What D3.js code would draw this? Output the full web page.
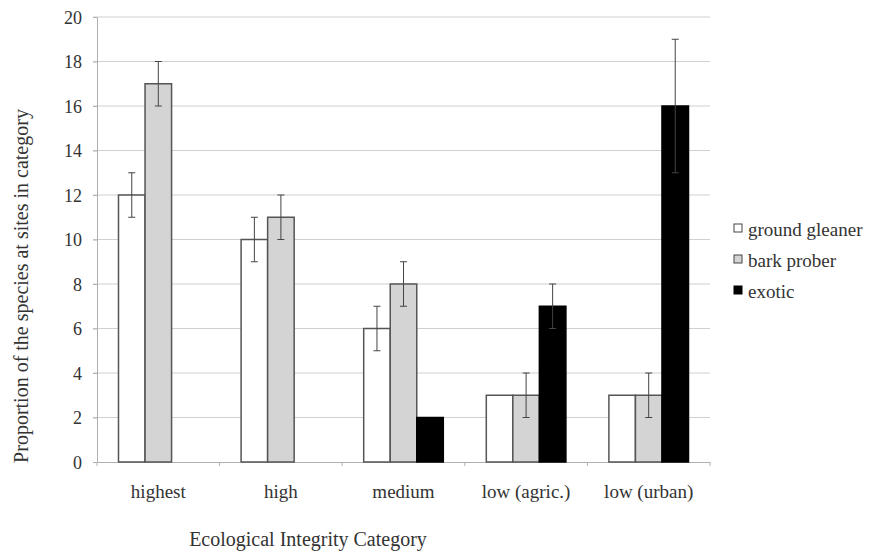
<!DOCTYPE html>
<html>
<head>
<meta charset="utf-8">
<script src="https://cdn.jsdelivr.net/npm/d3@7"></script>
<style>
  html, body { margin: 0; padding: 0; background: #fff; }
  svg { display: block; }
  svg text { font-family: "Liberation Serif", "Times New Roman", serif; fill: #333; }
</style>
</head>
<body>
<svg id="chart" width="871" height="554"></svg>
<script>
const categories = ["highest", "high", "medium", "low (agric.)", "low (urban)"];
const seriesNames = ["ground gleaner", "bark prober", "exotic"];
const groundGleaner = [12, 10, 6, 3, 3];
const barkProber = [17, 11, 8, 3, 3];
const exotic = [0, 0, 2, 7, 16];
const groundGleanerErr = [1, 1, 1, 0, 0];
const barkProberErr = [1, 1, 1, 1, 1];
const exoticErr = [0, 0, 0, 1, 3];
const yTicks = [0, 2, 4, 6, 8, 10, 12, 14, 16, 18, 20];

(function () {
const seriesValues = [groundGleaner, barkProber, exotic];
const seriesErrs = [groundGleanerErr, barkProberErr, exoticErr];
const fills = ["#ffffff", "#d4d4d4", "#000000"];
const strokes = ["#555555", "#555555", "#000000"];

const svg = d3.select("#chart");
const pL = 97, pR = 710, pT = 17, pB = 462;

const x = d3.scaleBand().domain(categories).range([pL, pR]).paddingInner(0).paddingOuter(0);
const inner = d3.scaleBand().domain(d3.range(seriesNames.length)).range([0, x.bandwidth()]).paddingInner(0).paddingOuter(0.81);
const y = d3.scaleLinear().domain([0, 20]).range([pB, pT]);

// gridlines
svg.append("g").selectAll("line").data(yTicks.filter(d => d > 0)).join("line")
  .attr("x1", pL - 4).attr("x2", pR)
  .attr("y1", d => y(d)).attr("y2", d => y(d))
  .attr("stroke", "#d0d0d0").attr("stroke-width", 1.2);

// y axis
const yAxis = svg.append("g").attr("transform", `translate(${pL},0)`)
  .call(d3.axisLeft(y).tickValues(yTicks).tickSize(4).tickSizeOuter(0));
yAxis.attr("font-family", null).attr("font-size", null);
yAxis.select(".domain").attr("stroke", "#b0b0b0");
yAxis.selectAll(".tick line").attr("stroke", "#b0b0b0");
yAxis.selectAll(".tick text").style("font-size", "18px").attr("x", -15).attr("dy", "0.34em");

// x axis
const xAxis = svg.append("g").attr("transform", `translate(0,${pB})`)
  .call(d3.axisBottom(x).tickSize(0).tickSizeOuter(0));
xAxis.attr("font-family", null).attr("font-size", null);
xAxis.select(".domain").attr("stroke", "#b0b0b0");
xAxis.selectAll(".tick text").style("font-size", "19px").attr("dy", 0).attr("y", 36);
// boundary ticks
svg.append("g").selectAll("line").data(d3.range(categories.length + 1)).join("line")
  .attr("x1", i => pL + i * x.step()).attr("x2", i => pL + i * x.step())
  .attr("y1", pB).attr("y2", pB + 4)
  .attr("stroke", "#b0b0b0");

// bars
seriesValues.forEach((vals, si) => {
  const g = svg.append("g");
  g.selectAll("rect").data(vals.map((v, i) => ({v, c: categories[i]})).filter(d => d.v > 0)).join("rect")
    .attr("x", d => x(d.c) + inner(si))
    .attr("width", inner.bandwidth())
    .attr("y", d => y(d.v))
    .attr("height", d => y(0) - y(d.v))
    .attr("fill", fills[si]).attr("stroke", strokes[si]).attr("stroke-width", 1.5);
});

// error bars
seriesValues.forEach((vals, si) => {
  const g = svg.append("g").attr("stroke", "#444").attr("stroke-width", 1);
  vals.forEach((v, i) => {
    if (v <= 0) return;
    const e = seriesErrs[si][i];
    const cx = x(categories[i]) + inner(si) + inner.bandwidth() / 2;
    if (e > 0) {
      g.append("line").attr("x1", cx).attr("x2", cx).attr("y1", y(v + e)).attr("y2", y(v - e));
      g.append("line").attr("x1", cx - 3.5).attr("x2", cx + 3.5).attr("y1", y(v + e)).attr("y2", y(v + e));
      g.append("line").attr("x1", cx - 3.5).attr("x2", cx + 3.5).attr("y1", y(v - e)).attr("y2", y(v - e));
    }
  });
});

// y label
svg.append("text")
  .attr("transform", `translate(28,${286}) rotate(-90)`)
  .attr("text-anchor", "middle").style("font-size", "20px")
  .text("Proportion of the species at sites in category");

// x label
svg.append("text").attr("x", 308).attr("y", 546)
  .attr("text-anchor", "middle").style("font-size", "20px")
  .text("Ecological Integrity Category");

// legend
const legend = svg.append("g").attr("transform", "translate(734,224)");
seriesNames.forEach((name, i) => {
  const gy = i * 31;
  legend.append("rect").attr("x", 0).attr("y", gy).attr("width", 8).attr("height", 8)
    .attr("fill", fills[i]).attr("stroke", i === 2 ? "#000" : "#444").attr("stroke-width", 1);
  legend.append("text").attr("x", 14).attr("y", gy + 12)
    .style("font-size", "19px").text(name);
});
})();
</script>
</body>
</html>
